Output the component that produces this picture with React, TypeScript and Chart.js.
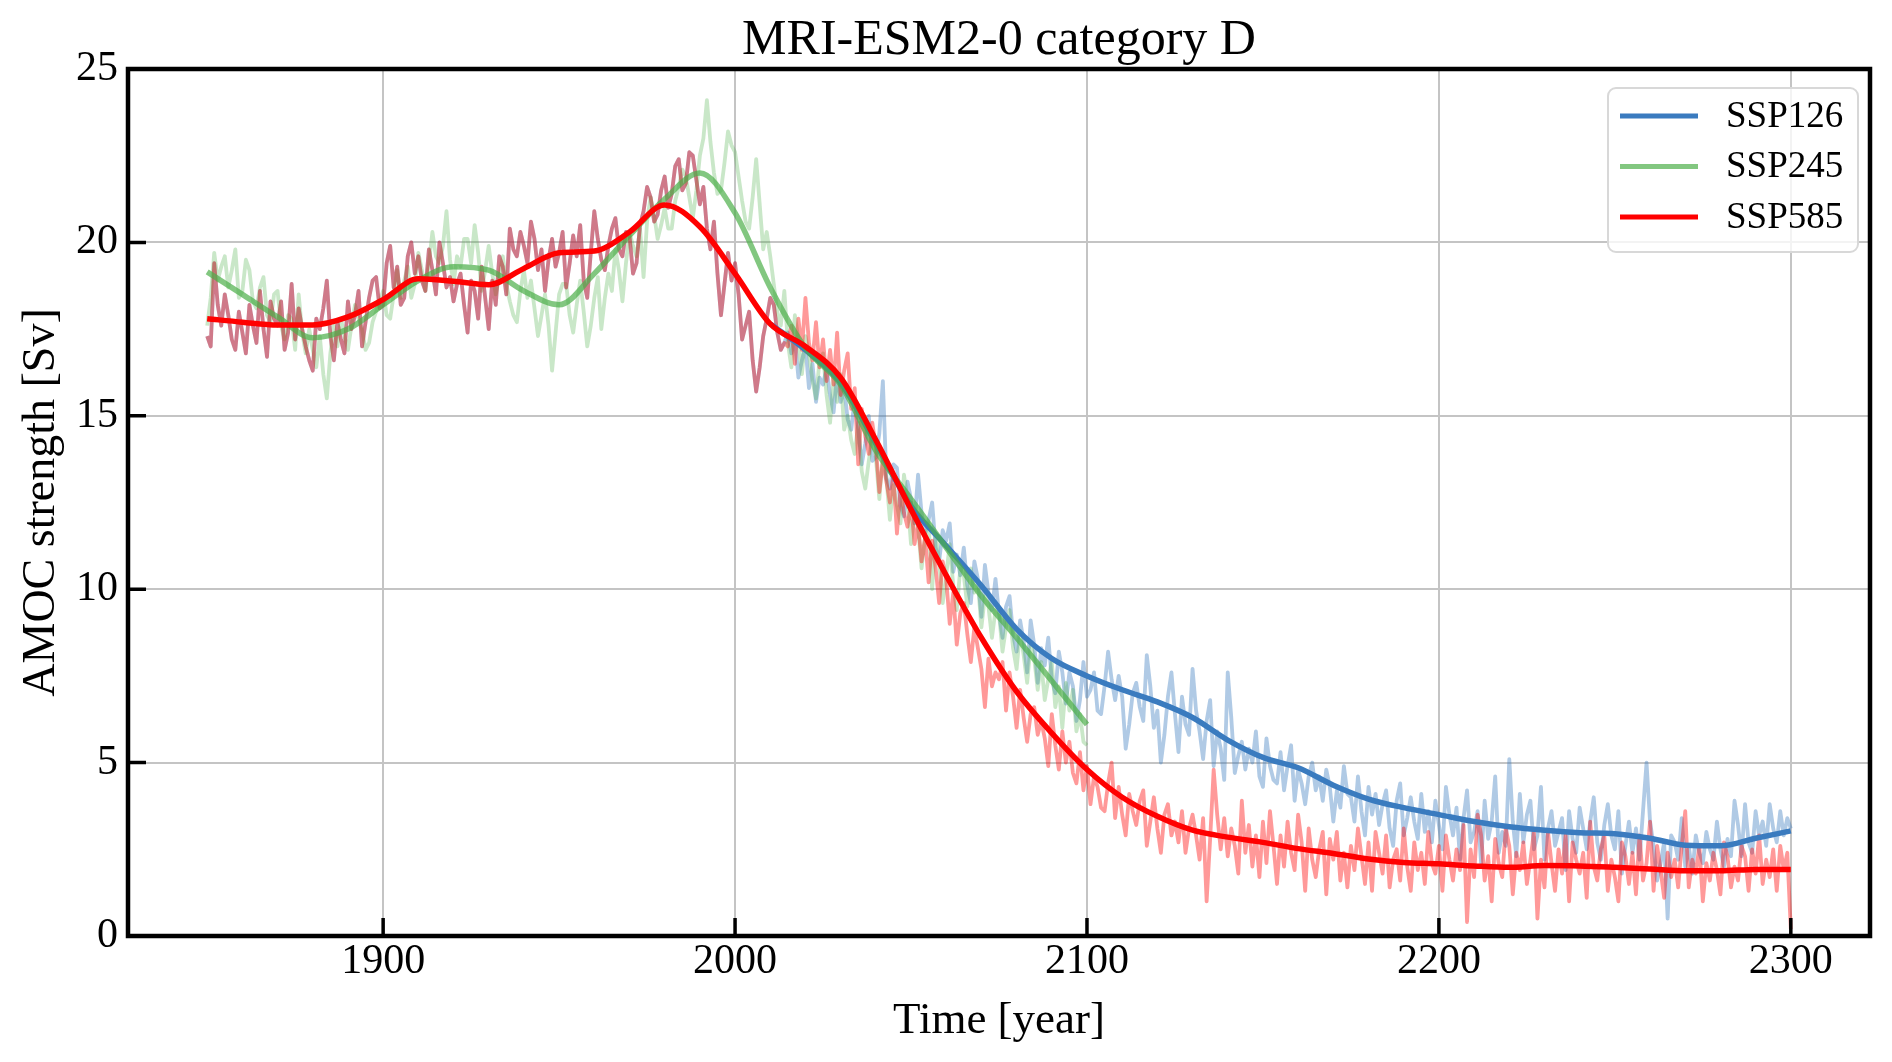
import React, { useEffect, useRef } from 'react';
import { Chart, registerables } from 'chart.js';

Chart.register(...registerables);

const title = 'MRI-ESM2-0 category D';
const xTitle = 'Time [year]';
const yTitle = 'AMOC strength [Sv]';
const xTicks = [1900, 2000, 2100, 2200, 2300];
const yTicks = [0, 5, 10, 15, 20, 25];
const legendLabels = ['SSP126', 'SSP245', 'SSP585'];

// raw annual AMOC values, one per year
const rawStep = 1;
const histStart = 1850;
const futureStart = 2015;

// historical run shared by SSP126 / SSP585 (1850-2014)
const histRaw = [
  17.3, 17.0, 19.4, 18.2, 17.6, 18.5, 17.9, 17.2, 16.9, 18.0,
  17.4, 16.8, 18.2, 17.6, 17.1, 18.6, 17.5, 16.7, 18.3, 17.8,
  17.6, 18.3, 16.9, 17.4, 18.8, 17.2, 18.1, 17.5, 17.0, 16.6,
  16.3, 17.8, 17.5, 18.1, 18.9, 17.3, 16.6, 17.7, 17.2, 16.8,
  18.3, 17.5, 17.9, 18.6, 17.0, 17.7, 18.4, 18.9, 19.0, 18.1,
  18.2, 19.4, 19.9, 18.7, 19.3, 18.2, 18.4, 19.6, 20.0, 19.1,
  19.6, 18.9, 18.6, 19.8, 19.2, 18.5, 20.0, 19.4, 18.7, 19.0,
  18.3, 18.8, 19.1, 18.2, 17.4, 18.9, 18.6, 17.8, 19.3, 18.4,
  17.5, 18.9, 18.2, 19.6, 19.3, 18.5, 20.4, 19.8, 19.6, 20.3,
  19.9, 19.4, 20.6, 20.1, 19.2, 19.8, 18.6, 19.5, 20.1, 19.3,
  19.7, 20.3, 18.7, 19.4, 20.2, 19.6, 20.5, 18.9, 18.4, 19.7,
  20.9, 20.1, 19.5, 19.2, 19.9, 20.4, 20.7, 19.8, 19.6, 20.3,
  20.2, 19.1, 19.4, 20.5, 20.9, 21.6, 21.3, 20.6, 20.8, 21.5,
  21.9, 21.0, 21.4, 22.2, 22.4, 21.5, 21.7, 22.6, 22.5, 21.8,
  21.1, 21.6, 20.4, 19.8, 20.6, 19.1, 17.9, 18.8, 19.7, 18.9,
  19.4, 18.5, 17.2, 17.6, 18.0, 16.6, 15.7, 16.4, 17.3, 17.8,
  18.4, 18.2, 17.4, 16.9, 17.1,
];

// historical run of the SSP245 member (1850-2014)
const histRaw245 = [
  17.6, 18.4, 19.7, 18.9, 19.3, 19.6, 18.7, 19.2, 19.8, 18.4,
  18.6, 19.5, 19.2, 18.3, 18.1, 18.7, 19.0, 17.9, 17.7, 18.5,
  18.6, 17.6, 17.2, 17.9, 17.8, 16.9, 18.5, 17.4, 16.8, 17.5,
  16.9, 16.4, 17.3, 16.2, 15.5, 16.8, 17.6, 17.0, 17.8, 17.3,
  16.9, 17.6, 18.2, 17.8, 17.5, 16.9, 17.1, 17.7, 18.0, 18.3,
  18.6, 17.9, 17.8, 18.5, 19.2, 18.4, 18.9, 19.3, 18.4, 18.8,
  19.7, 19.2, 18.6, 19.4, 20.3, 19.6, 19.4, 19.9, 20.9, 19.5,
  18.8, 19.6, 19.3, 20.1, 20.1, 19.4, 20.5, 19.7, 18.6, 19.2,
  19.9, 19.1, 18.5, 19.0, 19.6, 18.8, 18.3, 17.9, 17.7, 18.6,
  19.2, 18.4, 18.9, 18.1, 17.3, 17.9, 18.5, 17.6, 16.3, 17.4,
  18.5, 18.8, 18.8, 17.9, 17.4, 18.2, 18.9, 18.0, 17.0, 17.6,
  18.4, 19.0, 17.5, 18.4, 19.1, 18.6, 19.8, 19.2, 18.3, 19.4,
  20.3, 19.9, 19.6, 20.4, 19.0, 20.6, 21.3, 20.8, 20.1, 20.5,
  21.0, 20.4, 20.4, 21.2, 21.6, 22.1, 21.9, 21.3, 20.7, 21.5,
  22.5, 23.0, 24.1, 22.9, 22.0, 21.4, 21.5, 22.3, 23.2, 22.8,
  22.6, 21.9, 21.2, 20.6, 20.4, 21.3, 22.4, 21.1, 19.8, 20.3,
  19.6, 18.8, 18.0, 17.6, 18.6,
];

// scenario runs from 2015
const raw126 = [
  17.4, 16.8, 17.2, 16.1, 16.6, 17.0, 15.8, 16.5, 15.4, 16.1,
  15.9, 16.4, 15.6, 15.1, 16.2, 15.4, 15.8, 14.9, 14.6, 15.5,
  14.6, 13.6, 14.2, 15.0, 13.7, 13.8, 14.5, 16.0, 13.2, 12.9,
  13.6, 13.5, 12.4, 12.1, 13.1, 12.6, 11.9, 13.3, 12.2, 11.6,
  12.0, 12.5, 11.2, 10.8, 11.7, 11.4, 11.9, 10.5, 11.0, 10.4,
  11.2, 10.1, 9.6, 10.8, 10.3, 9.2, 10.7, 9.9, 9.4, 10.3,
  9.3, 8.6, 9.5, 9.8, 8.7, 8.2, 9.1, 8.5, 7.6, 9.1,
  8.4, 7.3, 8.3, 7.8, 8.6, 7.4, 7.0, 8.2, 7.6, 6.7,
  7.6, 7.2, 6.2, 6.8, 7.9, 6.9, 7.1, 7.6, 6.5, 6.4,
  7.2, 8.2, 7.4, 6.8, 7.5, 6.9, 5.4, 6.1, 7.0, 7.3,
  6.6, 6.2, 8.1, 7.2, 6.0, 6.5, 5.0, 5.8, 6.9, 7.6,
  6.4, 5.3, 6.9, 6.1, 5.8, 7.7, 6.5, 5.9, 5.1, 6.2,
  6.8, 4.9, 5.9, 5.4, 4.5, 7.6, 6.3, 4.7, 5.2, 5.6,
  4.8, 5.4, 5.0, 5.9, 4.6, 4.3, 5.7, 4.9, 4.5, 4.4,
  5.3, 4.2, 4.9, 5.5, 3.9, 4.8, 4.4, 3.8, 4.6, 5.0,
  4.2, 4.6, 3.9, 4.8, 4.3, 3.3, 4.2, 3.7, 4.9, 4.1,
  4.0, 3.3, 4.6, 3.6, 2.9, 4.3, 3.5, 4.1, 3.2, 3.8,
  4.2, 3.1, 2.6, 3.9, 4.4, 2.9, 3.4, 4.0, 3.3, 2.8,
  4.1, 3.0, 3.6, 2.7, 3.9, 3.2, 2.5, 4.3, 3.5, 2.9,
  3.7, 2.2, 3.4, 4.2, 2.7, 3.0, 3.6, 2.1, 3.9, 2.8,
  3.3, 4.6, 2.4, 3.0, 2.6, 5.1, 3.3, 2.3, 4.1, 2.7,
  3.5, 3.9, 2.5, 2.9, 4.3, 2.2, 3.1, 3.6, 2.6, 3.0,
  3.4, 1.9, 3.6, 2.8, 2.4, 3.7, 3.1, 2.5, 3.3, 4.0,
  2.7, 2.2, 3.2, 3.8, 2.9, 2.5, 3.6, 1.8, 2.6, 3.3,
  2.4, 3.1, 2.2, 3.6, 5.0, 3.3, 2.6, 1.6, 2.1, 2.7,
  0.5, 2.9, 2.7, 2.2, 3.4, 2.0, 2.6, 1.8, 2.9, 2.4,
  2.1, 3.0, 2.5, 2.2, 3.3, 2.5, 2.0, 2.8, 2.3, 3.9,
  3.2, 2.3, 3.8, 2.7, 2.4, 3.6, 2.9, 3.3, 2.6, 3.8,
  3.1, 2.7, 3.6, 2.9, 3.4, 3.1,
];

const raw245 = [
  17.1, 16.4, 17.9, 17.2, 16.2, 17.3, 16.8, 16.0, 15.5, 16.6,
  16.8, 15.6, 14.8, 16.1, 15.4, 16.2, 14.6, 15.0, 14.3, 13.9,
  14.8, 13.4, 12.9, 13.7, 14.4, 13.8, 12.6, 13.9, 13.2, 12.0,
  13.0, 12.4, 11.9, 13.3, 12.6, 11.3, 12.2, 11.8, 10.6, 11.5,
  11.9, 10.0, 11.6, 10.8, 9.6, 10.4, 11.3, 10.1, 9.4, 10.6,
  10.4, 9.5, 10.6, 9.9, 10.2, 8.9, 9.8, 9.5, 8.6, 9.4,
  9.3, 8.2, 8.9, 9.4, 8.3, 7.7, 8.8, 8.1, 7.3, 8.4,
  8.0, 7.1, 7.9, 6.8, 7.4, 7.9, 6.6, 7.2, 6.0, 7.3,
  6.5, 7.1, 5.9, 6.4, 5.6, 5.5,
];

const raw585 = [
  17.0, 17.6, 16.5, 17.8, 16.9, 18.4, 17.1, 16.6, 17.7, 16.4,
  17.2, 16.0, 16.9, 15.9, 17.4, 15.6, 16.3, 16.8, 15.2, 15.8,
  13.6, 15.2, 14.4, 13.9, 14.8, 14.1, 12.8, 13.7, 13.1, 12.5,
  13.3, 11.6, 12.9, 12.2, 11.8, 12.5, 11.3, 11.9, 10.8, 11.5,
  10.2, 11.4, 10.6, 9.6, 10.8, 10.3, 9.0, 9.9, 8.4, 9.3,
  9.6, 8.7, 7.9, 8.9, 8.3, 7.7, 6.6, 8.0, 7.2, 7.6,
  7.4, 7.9, 6.5, 7.6, 6.9, 6.0, 7.1, 6.3, 5.6, 6.4,
  6.6, 5.8, 6.2, 5.7, 4.9, 6.4, 5.5, 4.8, 5.9, 5.0,
  5.6, 4.7, 4.4, 5.3, 4.2, 4.9, 3.8, 4.6, 4.3, 3.7,
  3.6, 4.4, 5.0, 3.4, 4.3, 3.5, 2.9, 4.1, 3.6, 3.2,
  3.9, 4.2, 2.6, 3.3, 4.0, 3.1, 2.4, 3.5, 3.8, 2.9,
  3.3, 2.7, 3.6, 2.4, 3.1, 3.5, 2.9, 2.2, 3.4, 1.0,
  2.8, 4.8, 3.5, 2.5, 3.4, 2.3, 3.1, 2.6, 1.8, 3.9,
  2.4, 3.2, 2.0, 2.9, 1.7, 3.3, 2.1, 3.6, 2.6, 1.5,
  2.9, 2.0, 3.3, 2.4, 1.9, 3.5, 2.7, 1.3, 3.1, 2.2,
  1.7, 2.5, 3.0, 1.2, 2.8, 2.2, 3.0, 1.6, 2.4, 1.4,
  2.6, 1.9, 3.1, 2.3, 1.5, 2.7, 1.3, 3.0, 2.4, 1.8,
  2.9, 1.4, 2.2, 2.5, 1.6, 3.1, 2.0, 1.3, 2.7, 1.9,
  2.4, 1.5, 3.0, 2.1, 1.8, 2.6, 1.3, 2.9, 2.2, 1.6,
  2.5, 1.9, 3.2, 0.4, 2.5, 1.7, 3.5, 2.9, 1.6, 2.3,
  1.0, 2.8, 2.1, 1.7, 3.1, 2.6, 1.2, 2.4, 1.9, 2.7,
  1.5, 2.2, 3.0, 0.5, 2.2, 1.4, 3.0, 2.1, 1.3, 2.5,
  1.8, 2.9, 1.0, 2.7, 2.2, 1.8, 2.4, 1.1, 3.3, 2.0,
  1.6, 2.5, 2.9, 1.3, 2.2, 1.7, 1.0, 2.7, 2.3, 1.5,
  2.4, 1.2, 2.9, 1.6, 2.1, 3.3, 1.3, 2.6, 1.9, 1.1,
  2.4, 1.7, 2.2, 1.4, 2.6, 3.6, 1.4, 2.2, 1.8, 2.6,
  1.0, 2.1, 1.6, 2.4, 1.9, 1.2, 2.7, 2.3, 1.4, 2.0,
  1.6, 2.6, 2.3, 1.3, 2.5, 1.8, 2.9, 1.5, 2.2, 1.7,
  2.5, 1.3, 2.6, 1.9, 2.4, 0.2,
];

// smoothed curves, one value per decade
const smoothStep = 10;
const smooth126Start = 2010;
const smooth126 = [
  17.65, 16.9, 15.95, 14.2, 12.4, 11.25, 10.1, 8.85, 8.0, 7.5,
  7.1, 6.75, 6.3, 5.65, 5.15, 4.85, 4.35, 3.95, 3.7, 3.5,
  3.3, 3.15, 3.05, 2.98, 2.95, 2.82, 2.62, 2.6, 2.82, 3.03,
];
const smooth245Start = 1850;
const smooth245 = [
  19.15, 18.5, 17.85, 17.25, 17.5, 18.2, 18.9, 19.3, 19.2, 18.6,
  18.2, 19.1, 20.2, 21.25, 22.0, 20.85, 18.7, 16.95, 15.9, 14.0,
  12.6, 11.2, 9.8, 8.6, 7.35, 6.1,
];
const smooth585Start = 1850;
const smooth585 = [
  17.8, 17.7, 17.62, 17.62, 17.85, 18.35, 18.95, 18.88, 18.78, 19.25,
  19.7, 19.75, 20.3, 21.08, 20.45, 19.1, 17.65, 17.0, 16.1, 14.3,
  12.3, 10.4, 8.6, 7.05, 5.85, 4.8, 4.0, 3.45, 3.05, 2.85,
  2.7, 2.52, 2.38, 2.22, 2.12, 2.08, 2.02, 1.98, 2.03, 2.02,
  1.98, 1.93, 1.88, 1.88, 1.92, 1.92,
];

const toPoints = (start: number, step: number, values: number[]) =>
  values.map((y, i) => ({ x: start + i * step, y }));

const serif = "'Liberation Serif', 'Times New Roman', serif";
const blue = '#3a7bbf';
const green = 'rgba(77,175,74,0.7)';
const red = '#ff0000';

const frameAndLegend = {
  id: 'frameAndLegend',
  afterDraw(chart: any) {
    const { ctx, chartArea: a, scales } = chart;
    ctx.save();
    // inward ticks
    ctx.strokeStyle = '#000';
    ctx.lineWidth = 3.5;
    ctx.beginPath();
    xTicks.forEach((v) => {
      const px = scales.x.getPixelForValue(v);
      ctx.moveTo(px, a.bottom);
      ctx.lineTo(px, a.bottom - 18);
    });
    yTicks.forEach((v) => {
      const py = scales.y.getPixelForValue(v);
      ctx.moveTo(a.left, py);
      ctx.lineTo(a.left + 18, py);
    });
    ctx.stroke();
    ctx.lineWidth = 4.5;
    ctx.strokeRect(a.left, a.top, a.right - a.left, a.bottom - a.top);

    // legend box
    const w = 250;
    const h = 164;
    const x0 = a.right - 12 - w;
    const y0 = a.top + 19;
    const r = 8;
    ctx.beginPath();
    ctx.moveTo(x0 + r, y0);
    ctx.arcTo(x0 + w, y0, x0 + w, y0 + h, r);
    ctx.arcTo(x0 + w, y0 + h, x0, y0 + h, r);
    ctx.arcTo(x0, y0 + h, x0, y0, r);
    ctx.arcTo(x0, y0, x0 + w, y0, r);
    ctx.closePath();
    ctx.fillStyle = 'rgba(255,255,255,0.8)';
    ctx.fill();
    ctx.strokeStyle = '#d8d8d8';
    ctx.lineWidth = 2;
    ctx.stroke();

    ctx.font = `37px ${serif}`;
    ctx.textBaseline = 'middle';
    ctx.textAlign = 'left';
    legendLabels.forEach((label, i) => {
      const ly = y0 + 28 + i * 50.5;
      ctx.strokeStyle = chart.data.datasets[i].borderColor;
      ctx.lineWidth = 5;
      ctx.beginPath();
      ctx.moveTo(x0 + 12, ly);
      ctx.lineTo(x0 + 90, ly);
      ctx.stroke();
      ctx.fillStyle = '#000';
      ctx.fillText(label, x0 + 118, ly + 1);
    });
    ctx.restore();
  },
};

const App: React.FC = () => {
  const canvasRef = useRef<HTMLCanvasElement | null>(null);
  const chartRef = useRef<Chart | null>(null);

  useEffect(() => {
    if (!canvasRef.current) return;
    if (chartRef.current) chartRef.current.destroy();

    const smoothLine = (label: string, color: string, pts: any[], order: number) => ({
      label,
      data: pts,
      borderColor: color,
      borderWidth: 5.5,
      cubicInterpolationMode: 'monotone' as const,
      pointRadius: 0,
      fill: false,
      order,
    });
    const rawLine = (label: string, color: string, pts: any[], order: number) => ({
      label,
      data: pts,
      borderColor: color,
      borderWidth: 3.8,
      borderJoinStyle: 'round' as const,
      tension: 0,
      pointRadius: 0,
      fill: false,
      order,
    });

    const tickFont = { family: serif, size: 42, lineHeight: 1.2 };

    chartRef.current = new Chart(canvasRef.current, {
      type: 'line',
      data: {
        datasets: [
          smoothLine(legendLabels[0], blue, toPoints(smooth126Start, smoothStep, smooth126), 2),
          smoothLine(legendLabels[1], green, toPoints(smooth245Start, smoothStep, smooth245), 1),
          smoothLine(legendLabels[2], red, toPoints(smooth585Start, smoothStep, smooth585), 0),
          rawLine('SSP126 raw', 'rgba(58,123,191,0.4)',
            [...toPoints(histStart, rawStep, histRaw), ...toPoints(futureStart, rawStep, raw126)], 5),
          rawLine('SSP245 raw', 'rgba(77,175,74,0.3)',
            [...toPoints(histStart, rawStep, histRaw245), ...toPoints(futureStart, rawStep, raw245)], 4),
          rawLine('SSP585 raw', 'rgba(255,0,0,0.4)',
            [...toPoints(histStart, rawStep, histRaw), ...toPoints(futureStart, rawStep, raw585)], 3),
        ],
      },
      options: {
        responsive: false,
        animation: false,
        events: [],
        layout: { padding: { left: 0, right: 22, top: 0, bottom: 0 } },
        plugins: {
          legend: { display: false },
          tooltip: { enabled: false },
          title: {
            display: true,
            text: title,
            color: '#000',
            fullSize: false,
            font: { family: serif, size: 50, weight: 'normal', lineHeight: 1 },
            padding: { top: 16, bottom: 3 },
          },
        },
        scales: {
          x: {
            type: 'linear',
            min: 1827.5,
            max: 2322.5,
            afterBuildTicks: (s: any) => {
              s.ticks = xTicks.map((value) => ({ value }));
            },
            afterFit: (s: any) => {
              s.height = 126;
            },
            grid: { color: '#c4c4c4', lineWidth: 2, drawTicks: false },
            border: { display: false },
            ticks: {
              color: '#000',
              font: tickFont,
              padding: 1,
              maxRotation: 0,
              autoSkip: false,
              callback: (v: any) => String(v),
            },
            title: {
              display: true,
              text: xTitle,
              color: '#000',
              font: { family: serif, size: 45, lineHeight: 1 },
              padding: { top: 0, bottom: 18 },
            },
          },
          y: {
            type: 'linear',
            min: 0,
            max: 25,
            afterBuildTicks: (s: any) => {
              s.ticks = yTicks.map((value) => ({ value }));
            },
            afterFit: (s: any) => {
              s.width = 128;
            },
            grid: { color: '#c4c4c4', lineWidth: 2, drawTicks: false },
            border: { display: false },
            ticks: {
              color: '#000',
              font: tickFont,
              padding: 10,
              callback: (v: any) => String(v),
            },
            title: {
              display: true,
              text: yTitle,
              color: '#000',
              font: { family: serif, size: 46, lineHeight: 1 },
              padding: { top: 19, bottom: 0 },
            },
          },
        },
      } as any,
      plugins: [frameAndLegend],
    });

    return () => {
      if (chartRef.current) {
        chartRef.current.destroy();
        chartRef.current = null;
      }
    };
  }, []);

  return (
    <div style={{ position: 'absolute', top: 0, left: 0, width: 1892, height: 1062, background: '#fff' }}>
      <canvas ref={canvasRef} width={1892} height={1062} style={{ display: 'block' }} />
    </div>
  );
};

export default App;
